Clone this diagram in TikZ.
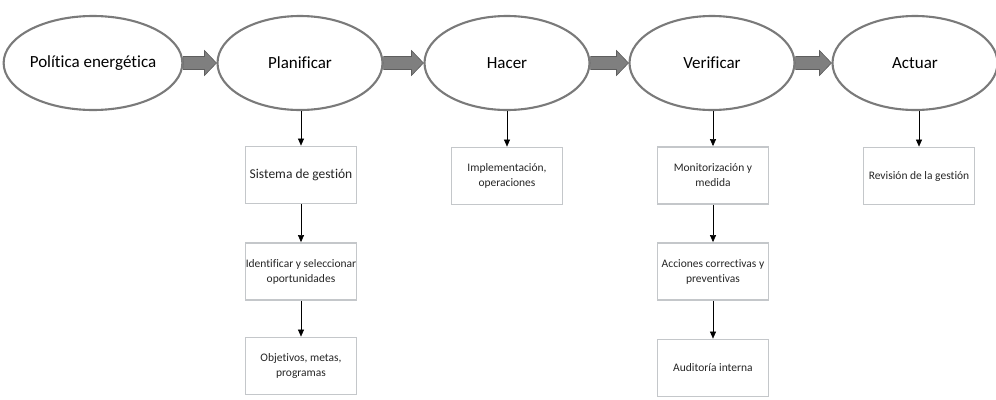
\documentclass[tikz,border=0pt]{standalone}
\usepackage{fontspec}
\setmainfont{Carlito}[Ligatures=CommonOff]
\usetikzlibrary{shapes.geometric,arrows.meta,calc}
\definecolor{ringgray}{HTML}{7A7A7A}
\definecolor{boxgray}{HTML}{C4C7CA}
\definecolor{flowgray}{HTML}{7F7F7F}
\definecolor{flowedge}{HTML}{5E5E5E}
\tikzset{
  phase/.style={ellipse, draw=ringgray, line width=2.1pt, fill=white,
    minimum width=165pt, minimum height=94pt, inner sep=0pt,
    font=\fontsize{17}{20}\selectfont},
  task/.style={rectangle, draw=boxgray, line width=1.8pt, fill=white,
    minimum width=111pt, minimum height=57pt, inner sep=0pt, align=center,
    text=black!85, font=\fontsize{11.5}{15}\selectfont},
  taskbig/.style={task, font=\fontsize{13.5}{16}\selectfont},
  link/.style={draw=black, line width=0.6pt, -{Triangle[length=7pt,width=6pt]}},
  flow/.style={fill=flowgray, draw=flowedge, line width=0.6pt, line join=miter}
}
\begin{document}
\begin{tikzpicture}[x=1pt,y=-1pt]
\useasboundingbox (0,0) rectangle (996,399);

% PDCA phases
\node[phase] (pol) at (93,63) {Política energética};
\node[phase] (pla) at (300,63) {Planificar};
\node[phase] (hac) at (507,63) {Hacer};
\node[phase] (ver) at (712,63) {Verificar};
\node[phase] (act) at (915,63) {Actuar};

% block arrows between phases
\foreach \a/\b in {pol/pla, pla/hac, hac/ver, ver/act}{
  \path let \p1=(\a.east), \p2=(\b.west) in
    \pgfextra{\xdef\xa{\x1}\xdef\xb{\x2}\xdef\ym{\y1}};
  \draw[flow] (\xa,\ym) ++(0,-6.5pt) -- ($(\xb,\ym)+(-12pt,-6.5pt)$)
    -- ($(\xb,\ym)+(-12pt,-12.5pt)$) -- (\xb,\ym)
    -- ($(\xb,\ym)+(-12pt,12.5pt)$) -- ($(\xb,\ym)+(-12pt,6.5pt)$)
    -- ($(\xa,\ym)+(0,6.5pt)$) -- cycle;
}

% Planificar column
\node[taskbig] (sg) at (301,175) {Sistema de gestión};
\node[task] (io) at (301,271.5) {Identificar y seleccionar\\oportunidades};
\node[task] (om) at (301,366) {Objetivos, metas,\\programas};

% Hacer column
\node[task] (im) at (507,176) {Implementación,\\operaciones};

% Verificar column
\node[task] (mm) at (713,175.5) {Monitorización y\\medida};
\node[task] (ac) at (713,271.5) {Acciones correctivas y\\preventivas};
\node[task] (ai) at (713,368) {Auditoría interna};

% Actuar column
\node[task] (rg) at (919,176) {Revisión de la gestión};

% vertical links
\draw[link] (pla.south -| sg.north) -- (sg.north);
\draw[link] (sg) -- (io);
\draw[link] (io) -- (om);
\draw[link] (hac.south) -- (im.north);
\draw[link] (ver.south -| mm.north) -- (mm.north);
\draw[link] (mm) -- (ac);
\draw[link] (ac) -- (ai);
\draw[link] (act.south -| rg.north) -- (rg.north);
\end{tikzpicture}
\end{document}
